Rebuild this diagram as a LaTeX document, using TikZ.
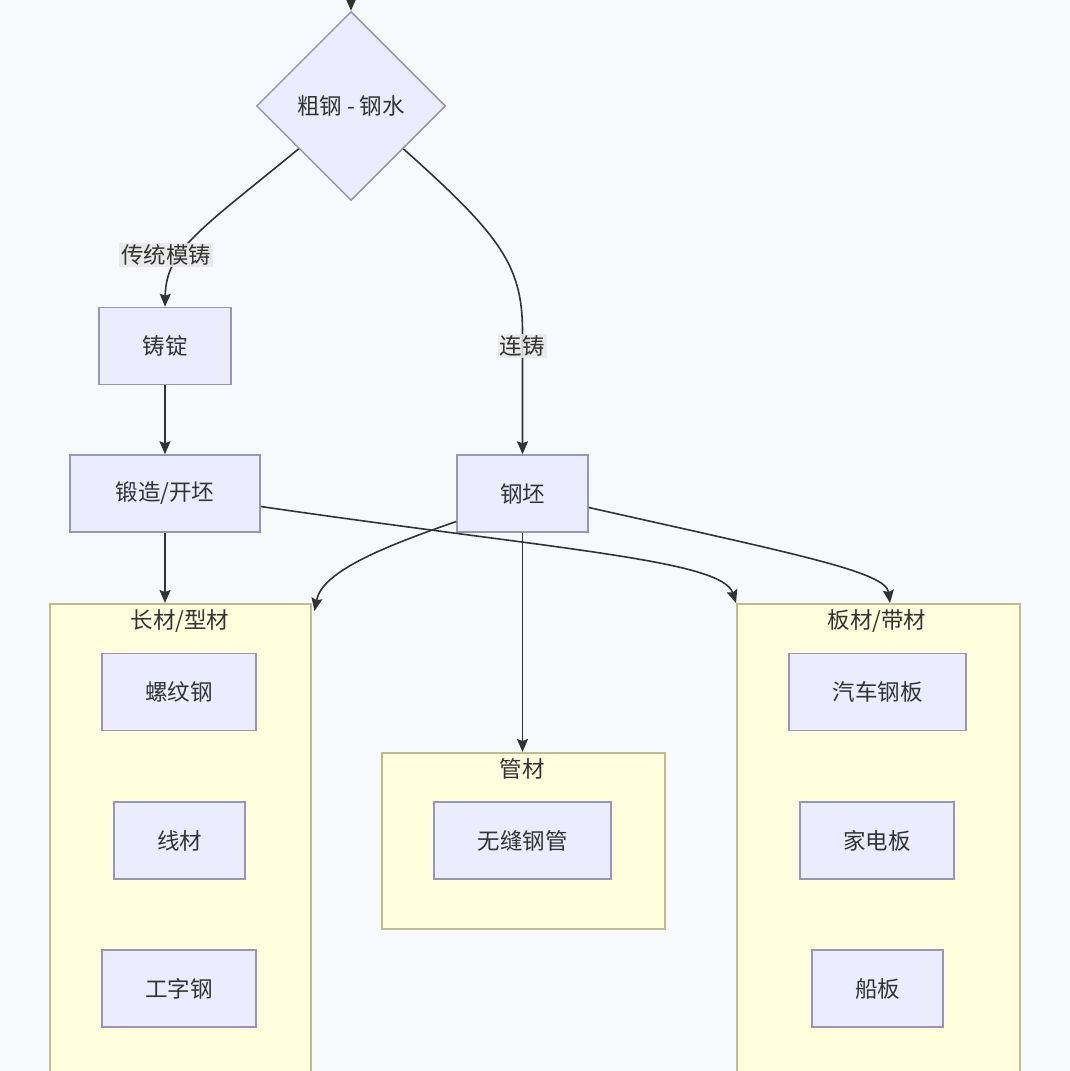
\documentclass[tikz,border=0pt]{standalone}
\usepackage{fontspec}
\setmainfont{Noto Sans CJK SC}
\usetikzlibrary{shapes.geometric,arrows.meta,calc}
\definecolor{bg}{HTML}{F8F9FC}
\definecolor{nodefill}{HTML}{ECECFF}
\definecolor{nodeline}{HTML}{9A94B8}
\definecolor{clfill}{HTML}{FFFFDE}
\definecolor{clline}{HTML}{BDBD8E}
\definecolor{txt}{HTML}{333333}
\definecolor{lblbg}{HTML}{E8E8E8}
\tikzset{
  boxnode/.style={draw=nodeline, fill=nodefill, line width=1.5pt, inner sep=0pt, text=txt, font=\fontsize{22.5}{26}\selectfont},
  clusterbox/.style={draw=clline, fill=clfill, line width=1.5pt, inner sep=0pt, anchor=north west},
  cltitle/.style={text=txt, font=\fontsize{22.5}{26}\selectfont, inner sep=0pt},
  elabel/.style={fill=lblbg, fill opacity=0.85, text opacity=1, text=txt, font=\fontsize{22.5}{26}\selectfont, inner sep=2pt},
  conn/.style={draw=txt, line width=1.6pt, -{Stealth[length=13pt,width=11pt,inset=2pt]}},
}
\begin{document}
\begin{tikzpicture}[x=1pt,y=-1pt]
\useasboundingbox (0,0) rectangle (1070,1071);
\clip (0,0) rectangle (1070,1071);
\fill[bg] (0,0) rectangle (1070,1071);

% clusters
\node[clusterbox, minimum width=261pt, minimum height=520pt] (CL) at (49,603) {};
\node[cltitle] (CLt) at (180,621) {长材/型材};
\node[clusterbox, minimum width=283pt, minimum height=176pt] (CP) at (381,752) {};
\node[cltitle] (CPt) at (522,769) {管材};
\node[clusterbox, minimum width=283pt, minimum height=520pt] (CB) at (736,603) {};
\node[cltitle] (CBt) at (877,621) {板材/带材};

% nodes
\node[boxnode, shape=diamond, minimum width=189pt, minimum height=189pt] (D) at (351,106) {粗钢 - 钢水};
\coordinate (top) at (351,-5);
\node[boxnode, minimum width=132pt, minimum height=77pt] (ZD) at (165,346) {铸锭};
\node[boxnode, minimum width=190pt, minimum height=77pt] (DZ) at (165,493.5) {锻造/开坯};
\node[boxnode, minimum width=131pt, minimum height=77pt] (GP) at (522.5,493.5) {钢坯};

\node[boxnode, minimum width=154pt, minimum height=77pt] (LW) at (179,692) {螺纹钢};
\node[boxnode, minimum width=131pt, minimum height=77pt] (XC) at (179.5,840.5) {线材};
\node[boxnode, minimum width=154pt, minimum height=77pt] (GZ) at (179,988.5) {工字钢};

\node[boxnode, minimum width=177pt, minimum height=77pt] (WF) at (522.5,840.5) {无缝钢管};

\node[boxnode, minimum width=177pt, minimum height=77pt] (QC) at (877.5,692) {汽车钢板};
\node[boxnode, minimum width=154pt, minimum height=77pt] (JD) at (877,840.5) {家电板};
\node[boxnode, minimum width=131pt, minimum height=77pt] (CB2) at (877.5,988.5) {船板};

% anchor points
\coordinate (dl) at ($(D.west)!0.45!(D.south)$);
\coordinate (dr) at ($(D.east)!0.45!(D.south)$);
\coordinate (dzr) at ($(DZ.east)+(0,13)$);
\coordinate (gpl) at ($(GP.west)+(0,28)$);
\coordinate (gpr) at ($(GP.east)+(0,14)$);
\coordinate (clne) at ($(CL.north east)+(3,8)$);
\coordinate (cbnw) at ($(CB.north west)+(0,0)$);
\coordinate (cbtop) at ($(CB.north west)+(154,0)$);

% connectors
\draw[conn] (top) -- (D.north);
\draw[conn] (dl) .. controls (200,230) and (166,250) .. (ZD.north);
\draw[conn] (dr) .. controls (500,235) and (522,265) .. (522.5,330) -- (GP.north);
\draw[conn] (ZD) -- (DZ);
\draw[conn] (DZ.south) -- (DZ.south |- CL.north);
\draw[conn] (GP.south) -- (CP.north -| GP.south);
\draw[conn] (dzr) .. controls (560,550) and (722,560) .. (cbnw);
\draw[conn] (gpl) .. controls (380,548) and (322,572) .. (clne);
\draw[conn] (gpr) .. controls (800,555) and (886,572) .. (cbtop);

% edge labels
\node[elabel] (L1) at (166,255) {传统模铸};
\node[elabel] (L2) at (522,346) {连铸};
\end{tikzpicture}
\end{document}
